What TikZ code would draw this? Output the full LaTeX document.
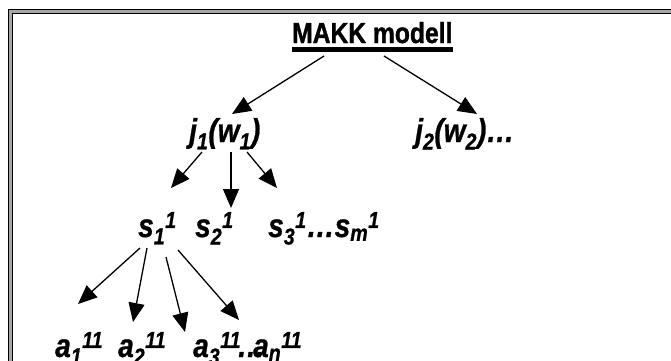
\documentclass[tikz,border=0pt]{standalone}
\usepackage{fontspec}
\setmainfont{Liberation Sans}
\newfontfamily\titlefont{Liberation Sans}[FakeStretch=0.85,FakeBold=1.2]
\newfontfamily\lblfont{Liberation Sans}[FakeStretch=0.85,FakeBold=0.8]
\usepackage{tikz}
\usetikzlibrary{arrows.meta,positioning,calc}
\newcommand\lsub[1]{\textsubscript{#1}}
\newcommand\lsup[1]{\textsuperscript{#1}}

\begin{document}
\begin{tikzpicture}[
  x=1pt,y=-1pt,
  frame/.style={line width=1.1pt,double=gray!70,double distance=3pt},
  hdr/.style={inner sep=0,anchor=base west,font=\titlefont\fontsize{29}{34}\selectfont\bfseries},
  lbl/.style={inner sep=0,anchor=base west,font=\lblfont\fontsize{33}{38}\selectfont\bfseries\itshape},
  arr/.style={-{Triangle[length=19pt,width=16pt]},line width=1.3pt}
]
  \clip (0,0) rectangle (671,360);
  % Outer frame
  \draw[frame] (10.5,11.5) rectangle (700,400);
  % Title
  \node[hdr] (title) at (292,43) {MAKK modell};
  \draw[line width=5pt] ([yshift=-6.5]title.base west) -- ([yshift=-6.5]title.base east);
  % Level 1
  \node[lbl] (j1) at (189,142) {j\lsub{1}(w\lsub{1})};
  \node[lbl] (j2) at (415,142) {j\lsub{2}(w\lsub{2})\ldots};
  % Level 2
  \node[lbl] (s1) at (138,237) {s\lsub{1}\lsup{1}};
  \node[lbl] (s2) at (195,237) {s\lsub{2}\lsup{1}};
  \node[lbl] (s3) at (268,237) {s\lsub{3}\lsup{1}\ldots s\lsub{m}\lsup{1}};
  % Level 3
  \node[lbl] (a1) at (55,357) {a\lsub{1}\lsup{11}};
  \node[lbl] (a2) at (118,357) {a\lsub{2}\lsup{11}};
  \node[lbl] (a3) at (193,357) {a\lsub{3}\lsup{11}\kern-4pt\ldots\kern-12pt a\lsub{n}\lsup{11}};
  % Arrows -- title
  \draw[arr] ([shift={(32,13)}]title.base west) -- ([shift={(43,-28)}]j1.base west);
  \draw[arr] ([shift={(92,13)}]title.base west) -- ([shift={(62,-28)}]j2.base west);
  % Arrows -- j1
  \draw[arr] ([shift={(13,10)}]j1.base west) -- ([shift={(33,-49)}]s1.base west);
  \draw[arr] ([shift={(42,10)}]j1.base west) -- ([shift={(36,-29)}]s2.base west);
  \draw[arr] ([shift={(58,10)}]j1.base west) -- ([shift={(9,-49)}]s3.base west);
  % Arrows -- s1
  \draw[arr] ([shift={(2,11)}]s1.base west) -- ([shift={(23,-53)}]a1.base west);
  \draw[arr] ([shift={(9,11)}]s1.base west) -- ([shift={(15,-35)}]a2.base west);
  \draw[arr] ([shift={(28,20)}]s1.base west) -- ([shift={(-8,-25)}]a3.base west);
  \draw[arr] ([shift={(40,13)}]s1.base west) -- ([shift={(46,-37)}]a3.base west);
\end{tikzpicture}
\end{document}
